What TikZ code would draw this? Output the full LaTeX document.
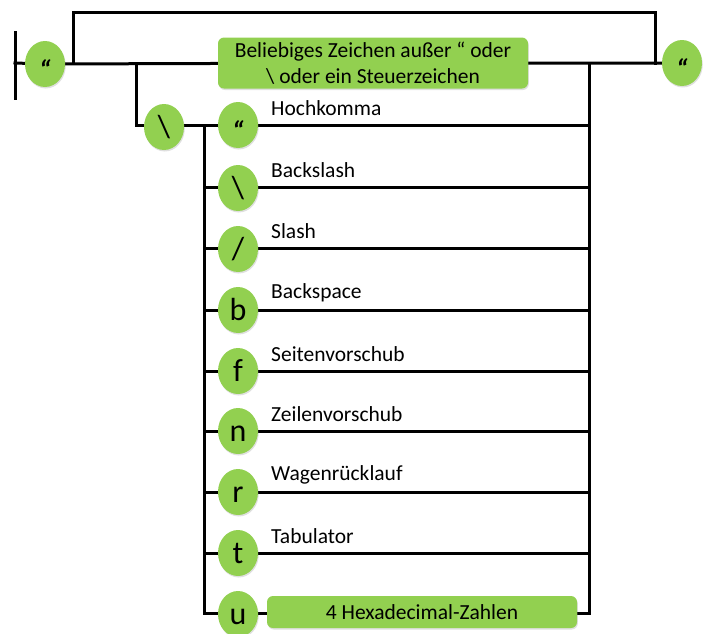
\documentclass[tikz,border=0pt]{standalone}
\usepackage{fontspec}
\setmainfont{Carlito}
\usetikzlibrary{shapes.geometric,shadows}
\definecolor{grn}{HTML}{92D050}
\pgfdeclarelayer{background}
\pgfsetlayers{background,main}
\tikzset{
  conn/.style={line width=3pt, line cap=rect},
  term/.style={ellipse, fill=grn, minimum width=40pt, minimum height=46pt, inner sep=0pt,
    text height=21pt, text depth=0pt, font=\fontsize{32}{32}\selectfont,
    drop shadow={opacity=0.25, shadow xshift=0.8pt, shadow yshift=-1.5pt}},
  gbox/.style={rounded corners=6pt, fill=grn, inner sep=0pt, align=center,
    font=\fontsize{21.5}{26}\selectfont,
    drop shadow={opacity=0.25, shadow xshift=0.8pt, shadow yshift=-1.5pt}},
  lbl/.style={anchor=west, inner sep=0pt, font=\fontsize{21.5}{24}\selectfont}
}
\newcommand{\qmark}{\raisebox{-5pt}{\fontsize{27}{27}\selectfont\bfseries\itshape “}}
\begin{document}
\begin{tikzpicture}[x=1pt,y=-1pt]
\useasboundingbox (0,0) rectangle (706,633);
% terminals on main line
\node[term] (qL) at (45,64) {\qmark};
\node[term] (qR) at (682,63) {\qmark};
\node[gbox, minimum width=310pt, minimum height=51pt] (any) at (373,63)
  {Beliebiges Zeichen außer “ oder\\\textbackslash{} oder ein Steuerzeichen};
\node[term] (bs) at (164,127) {\textbackslash};
% rows
\node[term] (c1) at (238,125) {\qmark};
\node[term] (c2) at (238,188) {\textbackslash};
\node[term] (c3) at (238,249) {/};
\node[term] (c4) at (238,310) {b};
\node[term] (c5) at (238,371) {f};
\node[term] (c6) at (238,431) {n};
\node[term] (c7) at (238,492) {r};
\node[term] (c8) at (238,553) {t};
\node[term] (c9) at (238,614) {u};
\node[gbox, minimum width=310pt, minimum height=32pt] (hex) at (422,612) {4 Hexadecimal-Zahlen};
% labels
\node[lbl] (l1) at (271,108) {Hochkomma};
\node[lbl] (l2) at (271,170) {Backslash};
\node[lbl] (l3) at (271,231) {Slash};
\node[lbl] (l4) at (271,293) {Backspace};
\node[lbl] (l5) at (271,354) {Seitenvorschub};
\node[lbl] (l6) at (271,414) {Zeilenvorschub};
\node[lbl] (l7) at (271,475) {Wagenrücklauf};
\node[lbl] (l8) at (271,536) {Tabulator};
% coordinates
\coordinate (s1) at (15,32);
\coordinate (s2) at (15,98);
\coordinate (s) at (15,63);
\coordinate (j1) at (73,63);
\coordinate (j1t) at (73,12);
\coordinate (j2t) at (655,12);
\coordinate (j2) at (655,63);
\coordinate (j3) at (136,63);
\coordinate (rt) at (589,63);
\foreach \i/\y in {1/125,2/187,3/248,4/310,5/371,6/431,7/492,8/553,9/613}{
  \coordinate (L\i) at (204,\y);
  \coordinate (R\i) at (589,\y);
}
\begin{pgfonlayer}{background}
\draw[conn] (s1) -- (s2);
\draw[conn] (s) -- (qL) -- (any) -- (qR);
\draw[conn] (j1) -- (j1t) -- (j2t) -- (j2);
\draw[conn] (j3) |- (L1);
\draw[conn] (rt) -- (R9);
\draw[conn] (L1) -- (L9);
\foreach \i in {1,...,8}{
  \draw[conn] (L\i) -- (R\i);
}
\draw[conn] (L9) -- (R9);
\end{pgfonlayer}
\end{tikzpicture}
\end{document}
